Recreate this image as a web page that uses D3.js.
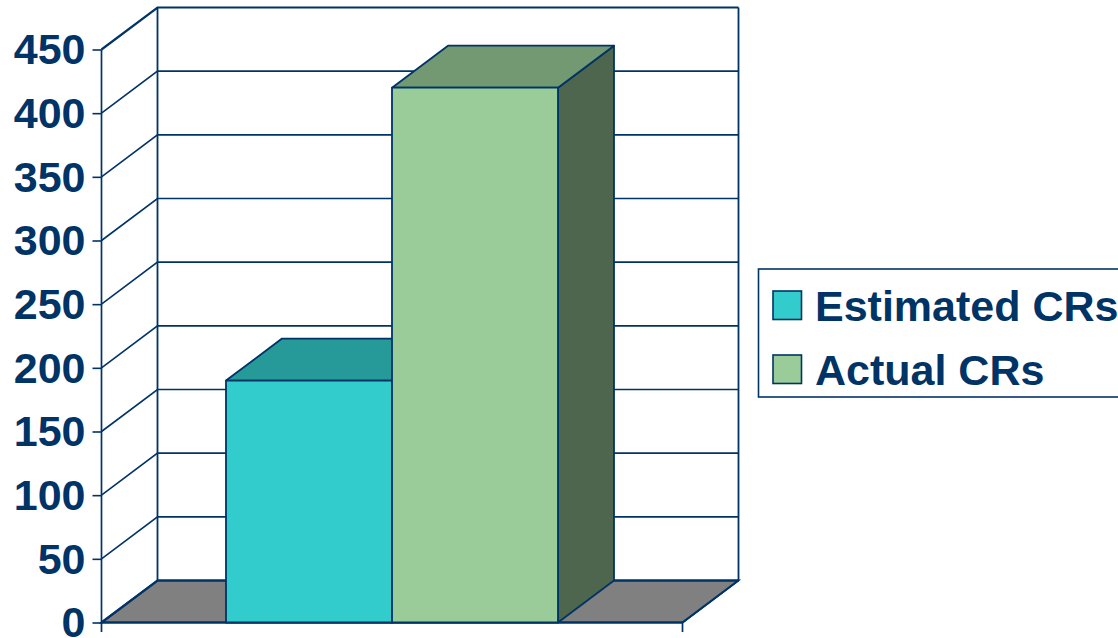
<!DOCTYPE html>
<html>
<head>
<meta charset="utf-8">
<script src="https://cdnjs.cloudflare.com/ajax/libs/d3/7.8.5/d3.min.js"></script>
<style>
  html, body { margin: 0; padding: 0; background: #fff; overflow: hidden; }
  svg { display: block; }
  text { font-family: "Liberation Sans", Arial, sans-serif; font-weight: 700; fill: #003366; }
</style>
</head>
<body>
<svg id="chart" width="1118" height="638"></svg>
<script>
// Change request counts, one group with two series
const seriesNames = ["Estimated CRs", "Actual CRs"];
const seriesValues = [190, 420];
const yTicks = [0, 50, 100, 150, 200, 250, 300, 350, 400, 450];
const frontColors = ["#33CCCC", "#99CC99"];
const topColors = ["#269999", "#729972"];
const sideColors = ["#1F7F7F", "#4D664D"];

const navy = "#003366";
const width = 1118, height = 638;
// Oblique offset of the back plane relative to the front plane
const depthX = 56, depthY = -42;

const svg = d3.select("#chart");
const y = d3.scaleLinear().domain([0, 450]).range([622.5, 49.5]);
const x = d3.scaleBand().domain(["group"]).range([101.5, 682.5]).paddingInner(0).paddingOuter(0);
const seriesX = d3.scaleBand().domain(seriesNames)
  .range([x("group") + 124.5, x("group") + x.bandwidth() - 124.5]);

const xL = x.range()[0], xR = x.range()[1];
const poly = pts => pts.map(p => p.join(",")).join(" ");

// Floor of the box
svg.append("polygon")
  .attr("points", poly([[xL, y(0)], [xL + depthX, y(0) + depthY], [xR + depthX, y(0) + depthY], [xR, y(0)]]))
  .attr("fill", "#808080").attr("stroke", navy).attr("stroke-width", 1.8);

// Gridlines across the back wall and down the side wall
const grid = svg.append("g").attr("fill", "none").attr("stroke", navy);
yTicks.forEach(v => {
  const sw = (v === 0 || v === 450) ? 2.2 : 1.6;
  grid.append("polyline")
    .attr("points", poly([[xL, y(v)], [xL + depthX, y(v) + depthY], [xR + depthX, y(v) + depthY]]))
    .attr("stroke-width", sw);
});
grid.append("line").attr("x1", xL + depthX).attr("x2", xL + depthX)
  .attr("y1", y(0) + depthY).attr("y2", y(450) + depthY).attr("stroke-width", 1.8);
grid.append("line").attr("x1", xR + depthX).attr("x2", xR + depthX)
  .attr("y1", y(0) + depthY).attr("y2", y(450) + depthY).attr("stroke-width", 1.8);
grid.append("line").attr("x1", xR).attr("x2", xR + depthX)
  .attr("y1", y(0)).attr("y2", y(0) + depthY).attr("stroke-width", 1.8);

// Value axis with its tick labels
const axis = d3.axisLeft(y).tickValues(yTicks).tickSize(9).tickPadding(7).tickFormat(d3.format("d"));
const axisG = svg.append("g").attr("transform", `translate(${xL},0)`).call(axis);
axisG.select(".domain").remove();
axisG.selectAll(".tick line").attr("stroke", navy).attr("stroke-width", 1.6);
axisG.selectAll(".tick text")
  .attr("font-size", 43).attr("dy", "0.33em")
  .style("font-family", '"Liberation Sans", Arial, sans-serif')
  .style("font-weight", 700).style("fill", navy);
svg.append("line").attr("x1", xL).attr("x2", xL).attr("y1", y(450)).attr("y2", 632)
  .attr("stroke", navy).attr("stroke-width", 1.7);
svg.append("line").attr("x1", xR).attr("x2", xR).attr("y1", y(0)).attr("y2", 632)
  .attr("stroke", navy).attr("stroke-width", 1.7);
svg.append("line").attr("x1", xL).attr("x2", xR).attr("y1", y(0)).attr("y2", y(0))
  .attr("stroke", navy).attr("stroke-width", 2.2);

// Bars: side, top, then front face
const bars = svg.append("g").attr("stroke", navy).attr("stroke-width", 1.8).attr("stroke-linejoin", "round");
seriesNames.forEach((name, i) => {
  const x0 = seriesX(name), x1 = x0 + seriesX.bandwidth();
  const yT = y(seriesValues[i]), yB = y(0);
  bars.append("polygon")
    .attr("points", poly([[x1, yB], [x1 + depthX, yB + depthY], [x1 + depthX, yT + depthY], [x1, yT]]))
    .attr("fill", sideColors[i]);
  bars.append("polygon")
    .attr("points", poly([[x0, yT], [x0 + depthX, yT + depthY], [x1 + depthX, yT + depthY], [x1, yT]]))
    .attr("fill", topColors[i]);
  bars.append("rect")
    .attr("x", x0).attr("y", yT).attr("width", x1 - x0).attr("height", yB - yT)
    .attr("fill", frontColors[i]);
});

// Legend box runs off the right edge of the page
const legend = svg.append("g");
legend.append("rect")
  .attr("x", 758.5).attr("y", 269).attr("width", 420).attr("height", 128)
  .attr("fill", "#fff").attr("stroke", navy).attr("stroke-width", 1.6);
const legendRowY = [291, 355];
const legendBaseline = [321, 385];
seriesNames.forEach((name, i) => {
  legend.append("rect")
    .attr("x", 773).attr("y", legendRowY[i]).attr("width", 28.5).attr("height", 28.5)
    .attr("fill", frontColors[i]).attr("stroke", navy).attr("stroke-width", 1.6);
  legend.append("text")
    .attr("x", 815).attr("y", legendBaseline[i])
    .attr("font-size", 43).text(name);
});
</script>
</body>
</html>
